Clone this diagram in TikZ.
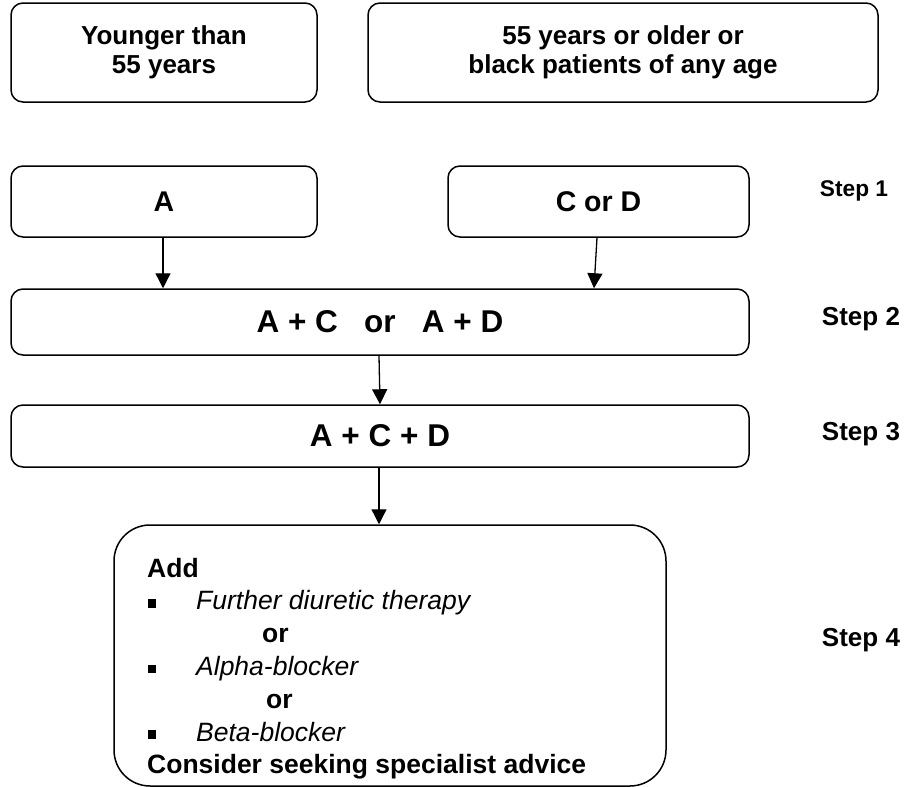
\documentclass[tikz,border=0pt]{standalone}
\usepackage{fontspec}
\setmainfont{Liberation Sans}
\usetikzlibrary{arrows.meta}

\newcommand{\fs}[2]{\fontsize{#1pt}{#2pt}\selectfont}

\begin{document}
\begin{tikzpicture}[x=1pt, y=-1pt,
  box/.style={draw, line width=1.5pt, rounded corners=12pt, inner sep=0pt, align=center, font=\bfseries\fs{26}{29.4}},
  bigbox/.style={box, font=\bfseries\fs{31.5}{36}},
  steplabel/.style={anchor=base, inner sep=0pt, font=\bfseries\fs{26}{30}},
  item/.style={anchor=base west, inner sep=0pt, font=\fs{26.5}{30}},
  sqbullet/.style={fill, minimum size=8.5pt, inner sep=0pt},
  arrowline/.style={->, line width=1.3pt},
  >={Triangle[width=15pt,length=15pt]}
]
\useasboundingbox (0,0) rectangle (914,787);

\node (young) at (164, 52.5) [box, minimum width=306pt, minimum height=99pt] {Younger than\\55 years};
\node (old)   at (623, 52.5) [box, minimum width=510pt, minimum height=99pt] {55 years or older or\\black patients of any age};

\node (A)    at (164, 201.5)   [box, minimum width=306pt, minimum height=71pt, font=\bfseries\fs{28.5}{32}] {A};
\node (CorD) at (598.5, 201.5) [box, minimum width=301pt, minimum height=71pt, font=\bfseries\fs{28.5}{32}] {C or D};
\node (step2) at (380, 322) [bigbox, minimum width=738pt, minimum height=66pt] {A + C\ \ \ or\ \ \ A + D};
\node (step3) at (380, 436) [bigbox, minimum width=738pt, minimum height=62pt] {A + C + D};
\node (step4) at (390, 655.5) [box, rounded corners=36pt, minimum width=552pt, minimum height=261pt] {};

\node (s1) at (854, 196.5) [steplabel, font=\bfseries\fs{22.7}{26}] {Step 1};
\node (s2) at (861, 325)   [steplabel] {Step 2};
\node (s3) at (861, 440)   [steplabel] {Step 3};
\node (s4) at (861, 646.7) [steplabel] {Step 4};

% contents of the last box
\node (add)    at (147, 577)   [item, font=\bfseries\fs{26.5}{30}] {Add};
\node (b1)     at (152, 603.5) [sqbullet] {};
\node (further) at (196, 609.8) [item] {\itshape Further diuretic therapy};
\node (or1)    at (262, 642.6) [item] {\bfseries or};
\node (b2)     at (152, 669)   [sqbullet] {};
\node (alpha)  at (196, 675.4) [item] {\itshape Alpha-blocker};
\node (or2)    at (266, 708.2) [item] {\bfseries or};
\node (b3)     at (152, 734.5) [sqbullet] {};
\node (beta)   at (196, 741)   [item] {\itshape Beta-blocker};
\node (advice) at (147, 773.8) [item, font=\bfseries\fs{26.5}{30}] {Consider seeking specialist advice};

\draw[arrowline] ([xshift=-1pt]A.south) -- ([xshift=-1pt]A.south |- step2.north);
\draw[arrowline] ([xshift=-1.5pt]CorD.south) -- ([xshift=-4.5pt]CorD.south |- step2.north);
\draw[arrowline] ([xshift=-1pt]step2.south) -- (step3.north);
\draw[arrowline] ([xshift=-1pt]step3.south) -- ([xshift=-1pt]step3.south |- step4.north);
\end{tikzpicture}
\end{document}
